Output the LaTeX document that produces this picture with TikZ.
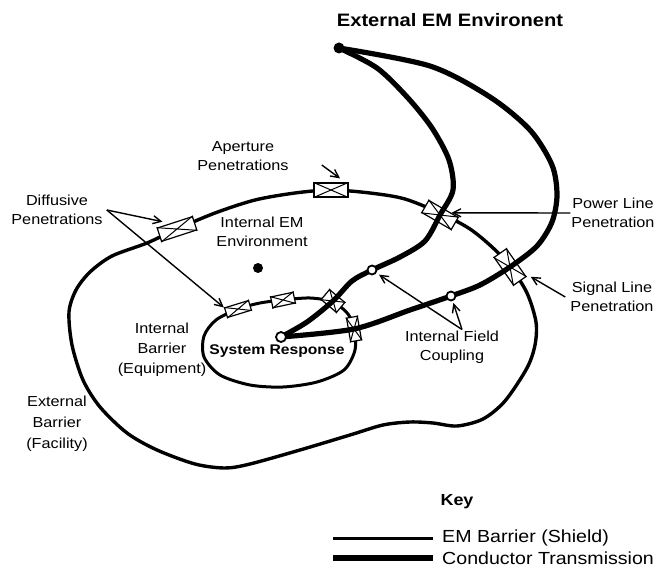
\documentclass[tikz,border=0pt]{standalone}
\usepackage{fontspec}
\setmainfont[FakeStretch=1.12]{Liberation Sans}
\usetikzlibrary{arrows.meta,positioning,calc}

\tikzset{
  lbl/.style={align=center,inner sep=1pt,font=\fontsize{14.5}{19}\selectfont},
  ttl/.style={inner sep=1pt,font=\fontsize{18}{22}\selectfont\bfseries},
  barrier/.style={line width=3.4pt,line join=round},
  wire/.style={line width=5.2pt,line cap=round,line join=round},
  penbox/.style={draw,fill=white,line width=1.2pt,inner sep=0pt,minimum height=14pt},
  ring/.style={circle,draw,fill=white,line width=1.8pt,inner sep=0pt,minimum size=9pt},
  blob/.style={circle,fill,inner sep=0pt,minimum size=11pt},
  arr/.style={-{Straight Barb[length=8pt,width=8pt,line width=1.4pt]},line width=1.4pt},
}

\begin{document}
\begin{tikzpicture}[x=1pt,y=-1pt]
\useasboundingbox (0,0) rectangle (667,572);

% barriers
\draw[barrier] plot[smooth cycle] coordinates {(331,190) (370,193) (405,199) (442,214)
  (470,229) (492,247) (510,266) (527,293) (536,322) (535,345) (527,368) (505,401)
  (483,419) (457,426) (433,423) (410,422) (383,425) (350,435) (300,450) (250,464)
  (225,468) (195,464) (157,450) (127,433) (100,407) (83,380) (72,345) (69,312)
  (76,290) (90,272) (112,256) (147,243) (177,229) (215,213) (255,200) (295,193)};
\draw[barrier,line width=3pt] plot[smooth cycle] coordinates {(238,309) (260,303)
  (283,300) (310,298) (333,302) (348,314) (354,329) (355,350) (344,370) (317,382)
  (283,387) (250,385) (220,375) (204,357) (204,336) (216,320)};

% penetrations
\node[penbox,minimum width=34pt] (apbox) at (331,190) {};
\node[penbox,minimum width=37pt,rotate=18] (difbox) at (177,229) {};
\node[penbox,minimum width=34pt,rotate=-30] (pwbox) at (440,215) {};
\node[penbox,minimum width=34pt,minimum height=15pt,rotate=-55] (sgbox) at (510,267) {};
\node[penbox,minimum width=25pt,minimum height=10pt,rotate=17] (eqboxa) at (238,309) {};
\node[penbox,minimum width=23pt,minimum height=11pt,rotate=12] (eqboxb) at (283,300) {};
\node[penbox,minimum width=20pt,minimum height=13pt,rotate=-40] (eqboxc) at (333,301) {};
\node[penbox,minimum width=24pt,minimum height=11pt,rotate=-80] (eqboxd) at (354,329) {};
\foreach \b in {apbox,difbox,pwbox,sgbox,eqboxa,eqboxb,eqboxc,eqboxd}
  \draw[line width=1pt] (\b.north west) -- (\b.south east) (\b.south west) -- (\b.north east);

% conductors
\coordinate (ext) at (339,48);
\coordinate (sys) at (281,337);
\coordinate (cpA) at (372,270);
\coordinate (cpB) at (451,296);
\draw[wire] plot[smooth] coordinates {(ext) (377,68) (408,98) (432,128) (449,160)
  (453,190) (pwbox) (425,241) (400,257) (cpA) (352,281) (eqboxc) (307,322) (sys)};
\draw[wire] plot[smooth] coordinates {(ext) (430,66) (490,97) (530,130) (552,165)
  (557,195) (552,222) (537,246) (sgbox) (480,285) (cpB) (410,310) (eqboxd) (sys)};
\node[blob] (extdot) at (ext) {};
\node[ring,minimum size=10pt] (sysdot) at (sys) {};
\node[ring] (cpAr) at (cpA) {};
\node[ring] (cpBr) at (cpB) {};
\node[blob,minimum size=10pt] (envdot) at (258,268) {};

% labels
\node[ttl] (title) at (450,20) {External EM Environent};
\node[lbl] (aplab) at (243,156) {Aperture\\Penetrations};
\node[lbl] (diflab) at (57,210) {Diffusive\\Penetrations};
\node[lbl] (envlab) at (262,232) {Internal EM\\Environment};
\node[lbl] (pwlab) at (613,213) {Power Line\\Penetration};
\node[lbl] (sglab) at (612,297) {Signal Line\\Penetration};
\node[lbl] (cplab) at (452,347) {Internal Field\\Coupling};
\node[lbl,font=\fontsize{14.5}{20}\selectfont] (eqlab) at (162,350) {Internal\\Barrier\\(Equipment)};
\node[lbl,font=\fontsize{14.5}{21}\selectfont] (falab) at (57,424) {External\\Barrier\\(Facility)};
\node[inner sep=1pt,font=\fontsize{14}{17}\selectfont\bfseries] (syslab) at (277,351) {System Response};

% arrows
\draw[arr] ([shift={(32,9)}]aplab.east) -- ([shift={(9,-4)}]apbox.north);
\draw[arr] ([xshift=3]diflab.east) -- ([shift={(6,-6)}]difbox.north west);
\draw[arr] ([xshift=3]diflab.east) -- (eqboxa.north west);
\draw[arr] (pwlab.west) -- ($(pwbox.north)!0.5!(pwbox.north east)$);
\draw[arr] ([xshift=-4]sglab.west) -- ([xshift=4]sgbox.north east);
\draw[arr,shorten >=3pt] ([xshift=10]cplab.north) -- (cpAr);
\draw[arr,shorten >=2pt] ([xshift=10]cplab.north) -- (cpBr);

% key
\node[ttl,font=\fontsize{16}{20}\selectfont\bfseries] (key) at (457,502) {Key};
\coordinate (kbara) at (333,538);
\coordinate (kbarb) at (433,538);
\coordinate (kwira) at (333,558);
\coordinate (kwirb) at (433,558);
\draw[barrier,line width=3pt] (kbara) -- (kbarb);
\draw[line width=5.5pt] (kwira) -- (kwirb);
\node[lbl,font=\fontsize{17.5}{20}\selectfont,right=8pt of kbarb] (kbartxt) {EM Barrier (Shield)};
\node[lbl,font=\fontsize{17.5}{20}\selectfont,right=8pt of kwirb] (kwirtxt) {Conductor Transmission};
\end{tikzpicture}
\end{document}
